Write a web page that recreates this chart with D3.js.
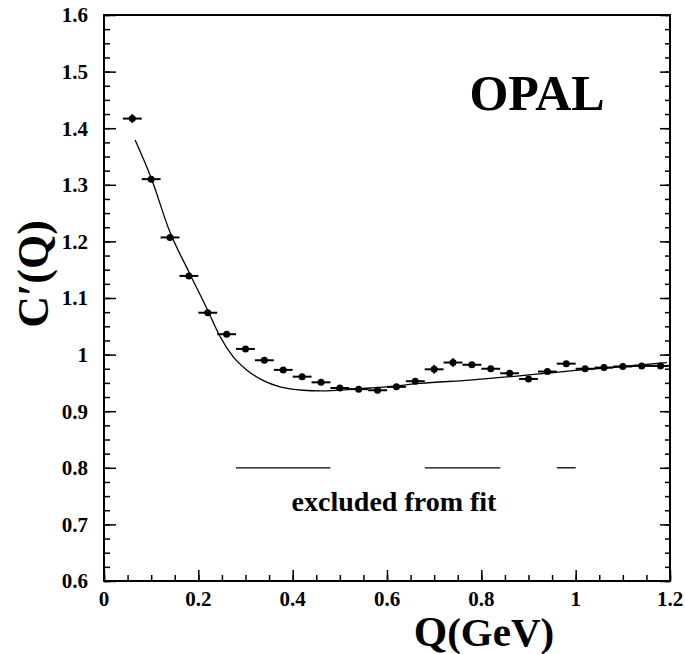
<!DOCTYPE html>
<html lang="en">
	<head>
		<meta charset="utf-8">
		<title>OPAL C'(Q)</title>
		<script type="text/javascript" src="https://cdn.jsdelivr.net/npm/d3@7"></script>
		<style>
			body { margin: 0; background: #fff; }
		</style>
	</head>
	<body>
	<script type="text/javascript">
			//data
			var qBins = [0.06, 0.10, 0.14, 0.18, 0.22, 0.26, 0.30, 0.34, 0.38, 0.42,
						0.46, 0.50, 0.54, 0.58, 0.62, 0.66, 0.70, 0.74, 0.78, 0.82,
						0.86, 0.90, 0.94, 0.98, 1.02, 1.06, 1.10, 1.14, 1.18];
			var cValues = [1.417, 1.310, 1.207, 1.139, 1.074, 1.036, 1.010, 0.990, 0.973, 0.961,
						0.951, 0.941, 0.939, 0.937, 0.943, 0.953, 0.974, 0.986, 0.982, 0.975,
						0.967, 0.957, 0.970, 0.984, 0.975, 0.977, 0.979, 0.980, 0.980];
			var cErrors = [0.008, 0.005, 0.004, 0.004, 0.004, 0.004, 0.004, 0.004, 0.004, 0.004,
						0.004, 0.004, 0.004, 0.004, 0.004, 0.005, 0.008, 0.008, 0.005, 0.004,
						0.004, 0.004, 0.004, 0.004, 0.004, 0.004, 0.004, 0.004, 0.004];
			var binHalfWidth = 0.02;

			//fit curve
			var fitQ = [0.066, 0.10, 0.14, 0.18, 0.22, 0.246, 0.274, 0.3025, 0.338, 0.373,
						0.4225, 0.458, 0.493, 0.5285, 0.564, 0.599, 0.670, 0.776, 0.90, 1.0, 1.10, 1.193];
			var fitC = [1.379, 1.312, 1.216, 1.146, 1.078, 1.032, 0.996, 0.973, 0.954, 0.943,
						0.937, 0.936, 0.937, 0.939, 0.941, 0.943, 0.949, 0.955, 0.964, 0.972, 0.979, 0.986];

			//excluded ranges
			var excludedStart = [0.28, 0.68, 0.96];
			var excludedEnd = [0.48, 0.84, 1.00];
			var excludedLevel = 0.8;

			var xTicks = [0, 0.2, 0.4, 0.6, 0.8, 1, 1.2];
			var yTicks = [0.6, 0.7, 0.8, 0.9, 1, 1.1, 1.2, 1.3, 1.4, 1.5, 1.6];

			//setup
			var width = 685, height = 654;
			var margin = {top: 15, right: 15, bottom: 73, left: 104};
			var svg = d3.select("body")
						.append("svg")
						.attr("width", width)
						.attr("height", height);

			var x = d3.scaleLinear().domain([0, 1.2]).range([margin.left, width - margin.right]);
			var y = d3.scaleLinear().domain([0.6, 1.6]).range([height - margin.bottom, margin.top]);

			//serif bold label helper
			function label(sel, size) {
				return sel.attr("font-size", size)
						.attr("font-weight", "bold")
						.style("font-family", "'Liberation Serif'");
			}

			//ticks
			var xMinor = d3.range(0, 1.2001, 0.05);
			var yMinor = d3.range(0.6, 1.6001, 0.025);

			function noDomain(g) { g.select(".domain").remove(); }

			svg.append("g")
				.attr("transform", "translate(0," + y(0.6) + ")")
				.call(d3.axisTop(x).tickValues(xMinor).tickSize(6).tickFormat(""))
				.call(noDomain);
			svg.append("g")
				.attr("transform", "translate(0," + y(0.6) + ")")
				.call(d3.axisTop(x).tickValues(xTicks).tickSize(11).tickFormat(""))
				.call(noDomain);

			svg.append("g")
				.attr("transform", "translate(" + x(0) + ",0)")
				.call(d3.axisRight(y).tickValues(yMinor).tickSize(6).tickFormat(""))
				.call(noDomain);
			svg.append("g")
				.attr("transform", "translate(" + x(0) + ",0)")
				.call(d3.axisRight(y).tickValues(yTicks).tickSize(12).tickFormat(""))
				.call(noDomain);

			svg.append("g")
				.attr("transform", "translate(" + x(1.2) + ",0)")
				.call(d3.axisLeft(y).tickValues(yMinor).tickSize(5).tickFormat(""))
				.call(noDomain);
			svg.append("g")
				.attr("transform", "translate(" + x(1.2) + ",0)")
				.call(d3.axisLeft(y).tickValues(yTicks).tickSize(10).tickFormat(""))
				.call(noDomain);

			svg.selectAll(".tick line").attr("stroke", "#000").attr("stroke-width", 1.5);

			//frame
			svg.append("rect")
				.attr("x", x(0))
				.attr("y", y(1.6))
				.attr("width", x(1.2) - x(0))
				.attr("height", y(0.6) - y(1.6))
				.attr("fill", "none")
				.attr("stroke", "#000")
				.attr("stroke-width", 2);

			//tick labels
			svg.selectAll(".xlab")
				.data(xTicks)
				.enter().append("text")
				.attr("x", function(d) { return x(d); })
				.attr("y", y(0.6) + 25)
				.attr("text-anchor", "middle")
				.call(label, 21)
				.text(function(d) { return d3.format("")(d); });

			svg.selectAll(".ylab")
				.data(yTicks)
				.enter().append("text")
				.attr("x", x(0) - 16)
				.attr("y", function(d) { return y(d); })
				.attr("dy", "0.35em")
				.attr("text-anchor", "end")
				.call(label, 21)
				.text(function(d) { return d3.format("")(d); });

			//axis titles
			var xt = svg.append("text")
				.attr("x", 484)
				.attr("y", 646)
				.attr("text-anchor", "middle")
				.call(label, 41);
			xt.append("tspan").attr("font-size", 43).text("Q");
			xt.append("tspan").text("(GeV)");

			svg.append("text")
				.attr("transform", "translate(48,274) rotate(-90)")
				.attr("text-anchor", "middle")
				.call(label, 44)
				.text("C\u2032(Q)");

			svg.append("text")
				.attr("x", 537)
				.attr("y", 110)
				.attr("text-anchor", "middle")
				.call(label, 50)
				.text("OPAL");

			//fit curve
			var line = d3.line()
						.x(function(d, i) { return x(fitQ[i]); })
						.y(function(d, i) { return y(fitC[i]); })
						.curve(d3.curveMonotoneX);
			svg.append("path")
				.attr("d", line(fitQ))
				.attr("fill", "none")
				.attr("stroke", "#000")
				.attr("stroke-width", 1.3);

			//excluded ranges
			svg.selectAll(".excl")
				.data(excludedStart)
				.enter().append("line")
				.attr("x1", function(d) { return x(d); })
				.attr("x2", function(d, i) { return x(excludedEnd[i]); })
				.attr("y1", y(excludedLevel))
				.attr("y2", y(excludedLevel))
				.attr("stroke", "#000")
				.attr("stroke-width", 1.3);

			svg.append("text")
				.attr("x", 394)
				.attr("y", 511)
				.attr("text-anchor", "middle")
				.call(label, 28)
				.text("excluded from fit");

			//data points
			var pts = svg.selectAll(".pt")
						.data(qBins)
						.enter().append("g");
			pts.append("line")
				.attr("x1", function(d) { return x(d - binHalfWidth); })
				.attr("x2", function(d) { return x(d + binHalfWidth); })
				.attr("y1", function(d, i) { return y(cValues[i]); })
				.attr("y2", function(d, i) { return y(cValues[i]); })
				.attr("stroke", "#000")
				.attr("stroke-width", 2);
			pts.append("line")
				.attr("x1", function(d) { return x(d); })
				.attr("x2", function(d) { return x(d); })
				.attr("y1", function(d, i) { return y(cValues[i] - cErrors[i]); })
				.attr("y2", function(d, i) { return y(cValues[i] + cErrors[i]); })
				.attr("stroke", "#000")
				.attr("stroke-width", 1.5);
			pts.append("circle")
				.attr("cx", function(d) { return x(d); })
				.attr("cy", function(d, i) { return y(cValues[i]); })
				.attr("r", 3.5)
				.attr("fill", "#000");
	</script>
	</body>
</html>
